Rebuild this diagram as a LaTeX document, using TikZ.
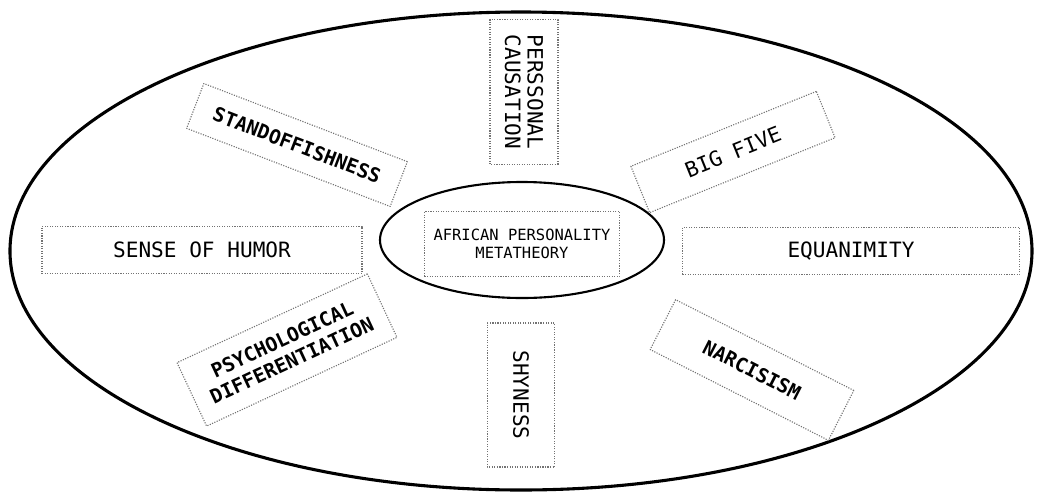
\documentclass[tikz,border=0pt]{standalone}
\usepackage{fontspec}
\setmonofont{DejaVu Sans Mono}
\usetikzlibrary{positioning}
\usetikzlibrary{shapes.geometric}
\tikzset{
tbox/.style={
  rectangle,
  draw=black!55,
  densely dotted,
  thick,
  inner sep=2pt,
  align=center,
  font=\ttfamily\fontsize{15}{16}\selectfont
  },
heavy/.style={
  font=\ttfamily\bfseries\fontsize{14}{16}\selectfont
  }
}

\begin{document}
\begin{tikzpicture}[line join=round]
    \useasboundingbox (-13.025,-6.125) rectangle (12.975,6.275);
    % outer and inner rings
    \draw[line width=2.2pt] (0,0) ellipse [x radius=12.775, y radius=5.975];
    \node[ellipse,draw,line width=1.5pt,minimum width=7.1cm,minimum height=2.9cm] (core) at (0.025,0.275) {};
    \node[tbox,minimum width=4.875cm,minimum height=1.625cm,
          font=\ttfamily\fontsize{11}{13}\selectfont] (apm) at (0.025,0.175) {AFRICAN PERSONALITY\\METATHEORY};
    % the eight traits round the core
    \node[tbox,rotate=-90,minimum width=3.625cm,minimum height=1.7cm] (pc) at (0.075,3.975) {PERSSONAL\\CAUSATION};
    \node[tbox,rotate=-90,minimum width=3.6cm,minimum height=1.675cm] (shy) at (0,-3.6) {SHYNESS};
    \node[tbox,minimum width=8cm,minimum height=1.175cm] (soh) at (-7.975,0.025) {SENSE OF HUMOR};
    \node[tbox,minimum width=8.425cm,minimum height=1.175cm] (equ) at (8.25,0) {EQUANIMITY};
    \node[tbox,heavy,rotate=-21,minimum width=5.45cm,minimum height=1.2cm] (sto) at (-5.6,2.65) {STANDOFFISHNESS};
    \node[tbox,rotate=22,minimum width=5cm,minimum height=1.25cm] (big) at (5.3,2.475) {BIG FIVE};
    \node[tbox,heavy,rotate=25,minimum width=5.25cm,minimum height=1.75cm] (psy) at (-5.85,-2.475) {PSYCHOLOGICAL\\DIFFERENTIATION};
    \node[tbox,heavy,rotate=-27,minimum width=5cm,minimum height=1.4cm] (nar) at (5.775,-2.975) {NARCISISM};
\end{tikzpicture}
\end{document}
